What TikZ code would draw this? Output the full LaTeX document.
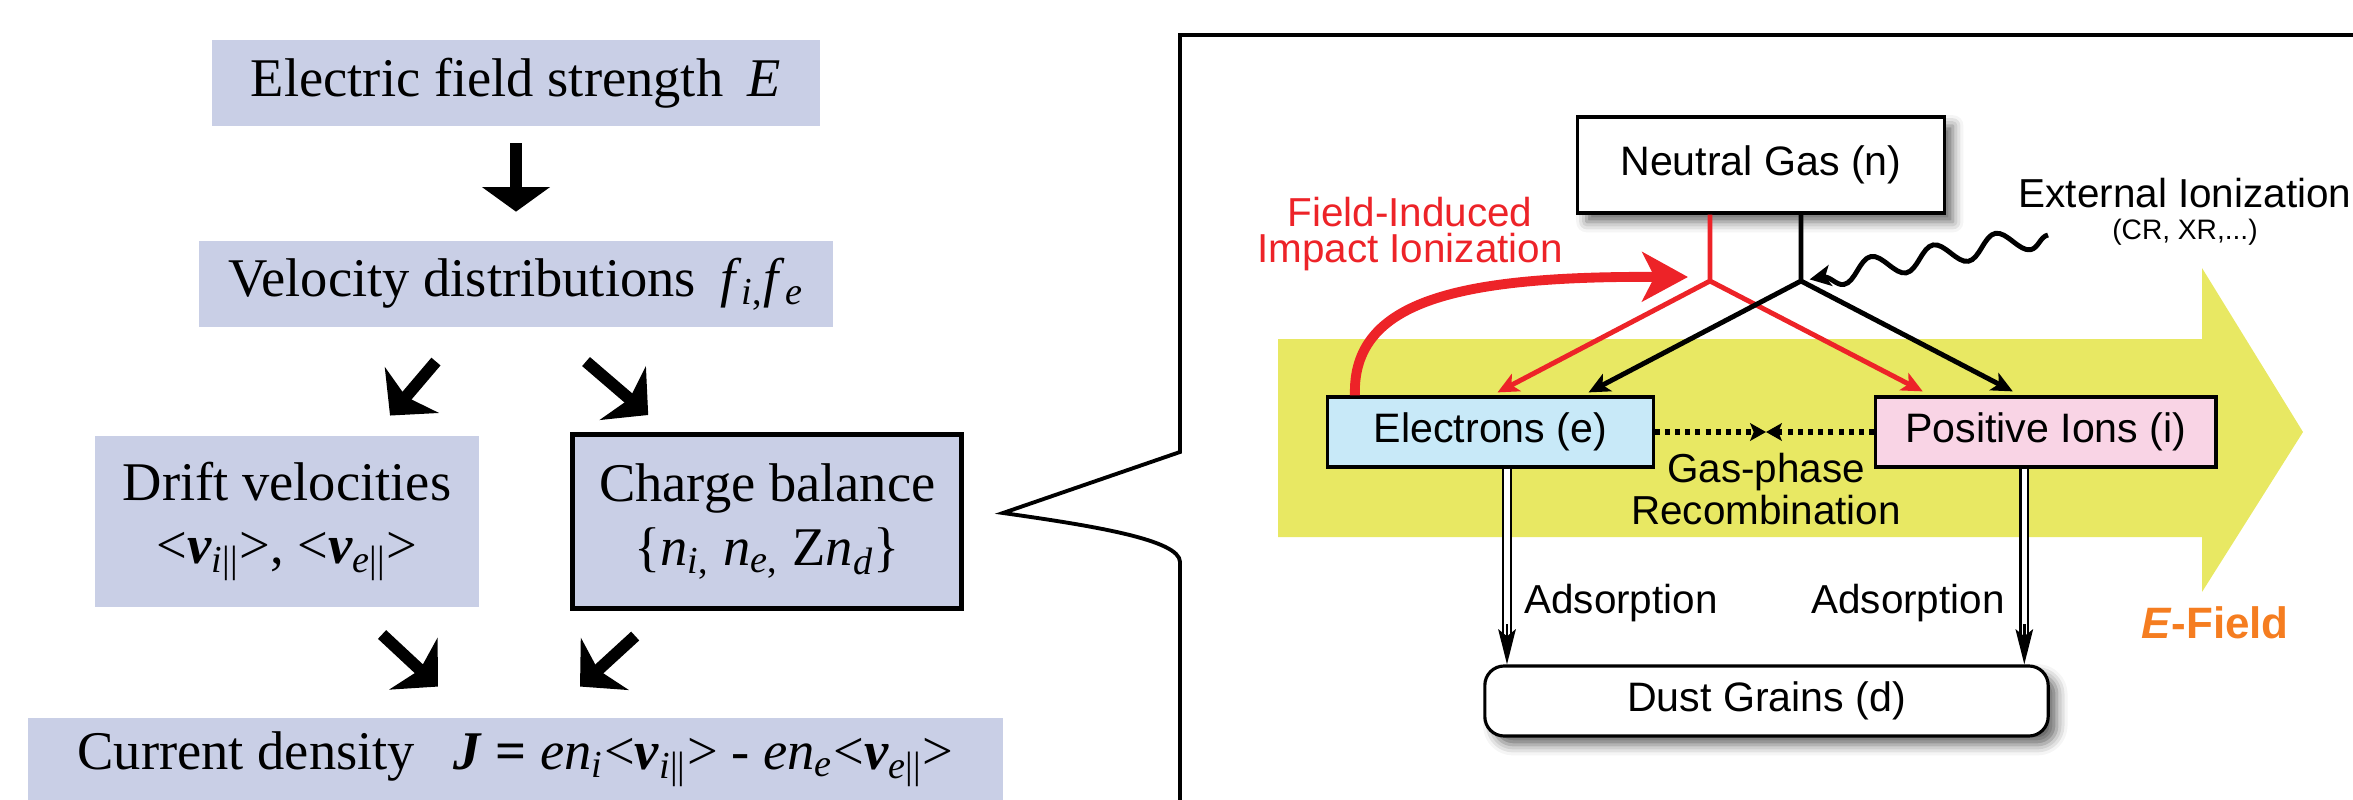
\documentclass[tikz,border=0pt]{standalone}
\usepackage{xcolor}
\usepackage{fontspec}
\setmainfont{Liberation Serif}
\newfontfamily\helv{Liberation Sans}
\usepackage{tikz}
\usetikzlibrary{positioning}
\usetikzlibrary{arrows.meta,decorations.pathmorphing,shadows.blur}
\definecolor{boxblue}{RGB}{201,207,230}
\definecolor{elecblue}{RGB}{200,233,248}
\definecolor{ionpink}{RGB}{249,212,229}
\definecolor{fieldyellow}{RGB}{232,232,99}
\definecolor{impactred}{RGB}{237,35,40}
\definecolor{fieldorange}{RGB}{245,125,32}
\tikzset{edge/.style = {-{Stealth[length=6pt,width=5.5pt,inset=1.5pt]}, line width=1.4pt}}
\newcommand{\sub}[1]{\textsubscript{#1}}
\newcommand{\vel}[1]{<\textbf{\textit{v}}\sub{\textit{#1}||}>}

\begin{document}
\begin{tikzpicture}[x=0.01cm,y=-0.01cm,thick,
    left node/.style={fill=boxblue,inner sep=0pt,align=center,font=\fontsize{15.5}{18}\selectfont},
    fat arrow/.style={line width=3.4pt,-{Stealth[length=9.5pt,width=20pt,inset=2.5pt]}},
    gas node/.style={draw,line width=0.9pt,inner sep=0pt,font=\helv\fontsize{11.7}{13}\selectfont},
    label text/.style={inner sep=0pt,align=center,font=\helv\fontsize{11.5}{10.2}\selectfont},
    dot arrow/.style={line width=1.7pt,dash pattern=on 1.4pt off 1.5pt,-{Stealth[length=4.5pt,width=5pt,inset=1pt]}},
    dbl edge/.style={double,double distance=1.5pt,line width=0.7pt,shorten >=8pt},
    dbl tip/.style={line width=0.7pt,-{Stealth[length=10pt,width=5pt,inset=2pt]}},
    gas shadow/.style={blur shadow={shadow xshift=2.5pt,shadow yshift=-2.5pt,shadow blur radius=3pt,shadow opacity=60}}]
    \useasboundingbox (0,0) rectangle (2353,800);

    \node[left node, minimum width=6.07cm, minimum height=0.86cm] (field) at (516,83) {Electric field strength\hspace{0.45em}\textit{E}};
    \node[left node, minimum width=6.33cm, minimum height=0.86cm] (distr) [below of=field, node distance=2.01cm] {Velocity distributions\hspace{0.45em}\textit{f}\sub{\textit{i},}\textit{f}\sub{\textit{e}}};
    \node[left node, minimum width=3.84cm, minimum height=1.71cm] (drift) at (287,521.5) {Drift velocities\\ \vel{i}, \vel{e}};
    \node[left node, draw, line width=1.4pt, minimum width=3.89cm, minimum height=1.74cm] (charge) [right of=drift, node distance=4.8cm] {Charge balance\\ \{\textit{n}\sub{\textit{i},} \textit{n}\sub{\textit{e},} Z\textit{n}\sub{\textit{d}}\}};
    \node[left node, minimum width=9.75cm, minimum height=0.82cm] (current) at (515.5,759) {Current density\hspace{0.7em}\textbf{\textit{J}} \textbf{=} \textit{en}\sub{\textit{i}}\vel{i} - \textit{en}\sub{\textit{e}}\vel{e}};

    \draw[line width=3.6pt, -{Triangle[length=7pt,width=19pt]}] ([yshift=-0.16cm]field.south) -- ([yshift=0.28cm]distr.north);
    \draw[fat arrow] ([xshift=-0.8cm,yshift=-0.33cm]distr.south) -- ([xshift=1.03cm,yshift=0.19cm]drift.north);
    \draw[fat arrow] ([xshift=0.7cm,yshift=-0.33cm]distr.south) -- ([xshift=-1.19cm,yshift=0.17cm]charge.north);
    \draw[fat arrow] ([xshift=0.95cm,yshift=-0.26cm]drift.south) -- ([xshift=-0.775cm,yshift=0.3cm]current.north);
    \draw[fat arrow] ([xshift=-1.32cm,yshift=-0.25cm]charge.south) -- ([xshift=0.645cm,yshift=0.3cm]current.north);

    \draw[line width=1.1pt] (2400,35) -- (1180,35) -- (1180,452) -- (1003,513) .. controls (1095,526) and (1180,540) .. (1180,562) -- (1180,820);
    \fill[fieldyellow] (1278,339) -- (2202,339) -- (2202,268) -- (2303,432) -- (2202,592) -- (2202,537) -- (1278,537) -- cycle;

    \node[gas node, fill=white, gas shadow, minimum width=3.66cm, minimum height=0.96cm] (gas) at (1761,165) {Neutral Gas (n)};
    \node[gas node, fill=elecblue, minimum width=3.25cm, minimum height=0.70cm] (elec) at (1490.5,432) {Electrons (e)};
    \node[gas node, fill=ionpink, minimum width=3.40cm, minimum height=0.70cm] (ion) [right of=elec, node distance=5.55cm] {Positive Ions (i)};
    \node[gas node, fill=white, gas shadow, rounded corners=5.5pt, minimum width=5.63cm, minimum height=0.70cm] (dust) at (1766.5,701) {Dust Grains (d)};

    \node[label text, text=impactred, font=\helv\fontsize{11.5}{10}\selectfont] (impact) at (1410,234) {Field-Induced\\Impact Ionization};
    \node[label text] (extion) at (2185,193) {External Ionization};
    \node[label text, font=\helv\fontsize{8}{9}\selectfont] (extsub) at (2185,232) {(CR, XR,...)};
    \node[label text] (recomb) at (1766,489) {Gas-phase\\Recombination};
    \node[label text] (adsl) at (1621,603) {Adsorption};
    \node[label text] (adsr) at (1908,603) {Adsorption};
    \node[inner sep=0pt, text=fieldorange, font=\helv\bfseries\fontsize{12.5}{13}\selectfont] (efield) at (2215,623) {\textit{E}-Field};

    \coordinate (redjoin) at (1710,281);
    \coordinate (blkjoin) at (1801,281);
    \coordinate (xray) at (2048,235);
    \coordinate (meet) at (1766,432);
    \coordinate (adsL) at ([xshift=0.165cm]elec.south);
    \coordinate (adsR) at ([xshift=-0.215cm]ion.south);

    \draw[edge, impactred] (gas.south -| redjoin) -- (redjoin) -- ([xshift=0.07cm,yshift=0.03cm]elec.north);
    \draw[edge, impactred] (redjoin) -- ([xshift=-1.23cm,yshift=0.04cm]ion.north);
    \draw[edge] (gas.south -| blkjoin) -- (blkjoin) -- ([xshift=0.98cm,yshift=0.03cm]elec.north);
    \draw[edge] (blkjoin) -- ([xshift=-0.33cm,yshift=0.04cm]ion.north);
    \draw[impactred, line width=2.8pt, -{Stealth[length=13pt,width=14pt,inset=3.5pt]}] ([xshift=-1.355cm]elec.north) .. controls (1352,300) and (1460,276) .. ([xshift=-0.22cm,yshift=0.04cm]redjoin);
    \draw[line width=1.4pt, -{Stealth[length=6pt,width=6pt,inset=1.5pt]}, decorate, decoration={snake,amplitude=3.2pt,segment length=18pt,post length=6pt}, shorten >=2.5pt] (xray) -- (blkjoin);

    \draw[dot arrow] (elec.east) -- (meet);
    \draw[dot arrow] (ion.west) -- (meet);
    \draw[dbl edge] (adsL) -- (adsL |- dust.north);
    \draw[dbl tip] ([yshift=0.4cm]adsL |- dust.north) -- (adsL |- dust.north);
    \draw[dbl edge] (adsR) -- (adsR |- dust.north);
    \draw[dbl tip] ([yshift=0.4cm]adsR |- dust.north) -- (adsR |- dust.north);
\end{tikzpicture}
\end{document}
